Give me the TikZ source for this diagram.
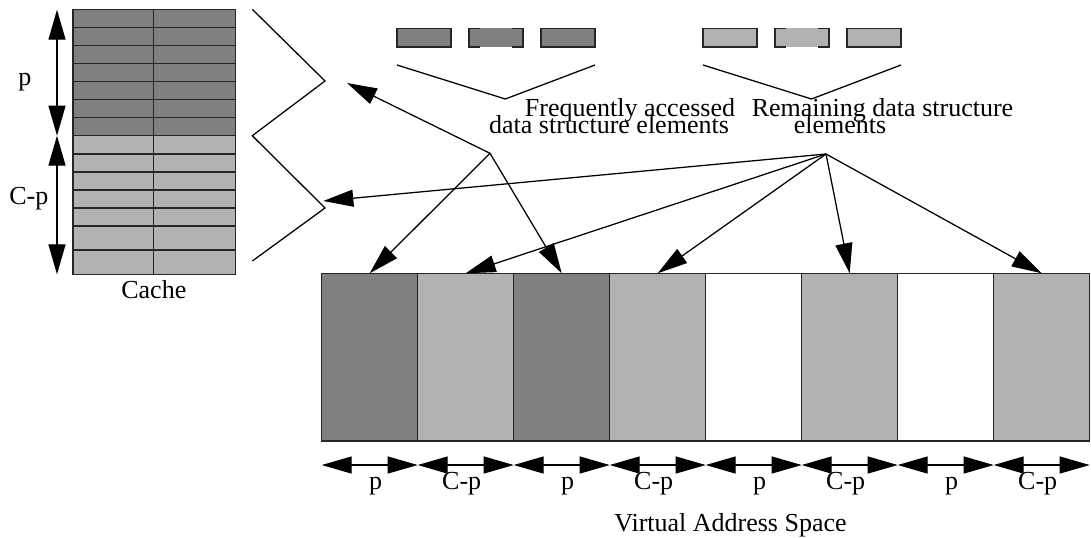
\documentclass[tikz,border=0pt]{standalone}
\usepackage{fontspec}
\setmainfont{Liberation Serif}
\usetikzlibrary{arrows.meta,calc}
\usepackage{xcolor}
\definecolor{hotgray}{gray}{0.5}
\definecolor{coldgray}{gray}{0.7}

\begin{document}
\begin{tikzpicture}[x=0.75pt,y=-0.75pt,
  every node/.style={font=\fontsize{19.5pt}{20pt}\selectfont, inner sep=0pt},
  boxline/.style={line width=1.1pt, draw=black!85},
  bigtip/.style={-{Triangle[length=22.5pt,width=12.75pt]}, line width=0.95pt},
  dimarrow/.style={{Triangle[length=22.5pt,width=12.75pt]}-{Triangle[length=22.5pt,width=12.75pt]}, line width=0.95pt},
  vbox/.style={boxline, minimum width=72pt, minimum height=125.8pt, outer sep=0pt}]
\useasboundingbox (0,0) rectangle (1091,538);

%cache lines
\fill[hotgray] (73,9.7) rectangle (235.7,135.7);
\fill[coldgray] (73,135.7) rectangle (235.7,274.3);
\foreach \y in {27.7,45.7,63.7,81.7,99.7,117.7,135.7,154,172,190,208,226,250}
  \draw[boxline] (73,\y) -- (235.7,\y);
\draw[boxline] (153.7,9.7) -- (153.7,274.3);
\draw[boxline] (73,9.7) rectangle (235.7,274.3);
\node[anchor=base] (cachelbl) at (153.8,298.3) {Cache};

%cache split
\coordinate (ctop) at (57,9.7); \coordinate (cmid) at (57,135.7); \coordinate (cbot) at (57,274.3);
\draw[dimarrow] (ctop) -- (cmid);
\draw[dimarrow] (cmid) -- (cbot);
\node[anchor=base] (lblp) at (25,86) {p};
\node[anchor=base] (lblcp) at (28.8,205) {C-p};

%zigzag coords
\coordinate (zz0) at (252.3,9.3); \coordinate (zzA) at (325,81); \coordinate (zz1) at (252.3,135.7); \coordinate (zzB) at (325,208); \coordinate (zz2) at (252.3,261);
\draw[line width=0.95pt] (zz0) -- (zzA) -- (zz1) -- (zzB) -- (zz2);

%data structure elements
\foreach \x/\c in {397/hotgray,541/hotgray,703/coldgray,847/coldgray}
  \draw[boxline, fill=\c] (\x,28.5) rectangle ++(54,18.5);
\foreach \x/\c in {469/hotgray,775/coldgray}{
  \fill[\c] (\x,28.5) rectangle ++(54,18.5);
  \draw[boxline] (\x+11,28.5) -- (\x,28.5) -- (\x,47) -- (\x+11,47);
  \draw[boxline] (\x+43,28.5) -- (\x+54,28.5) -- (\x+54,47) -- (\x+43,47);
}
\draw[line width=0.95pt] (397,65) -- (505.3,99) -- (595,65);
\draw[line width=0.95pt] (703,65) -- (811.5,99) -- (901,65);
\node[anchor=base] (freq1) at (630,116.5) {Frequently accessed};
\node[anchor=base] (freq2) at (609,134) {data structure elements};
\node[anchor=base] (rest1) at (882.5,116.5) {Remaining data structure};
\node[anchor=base] (rest2) at (840,134) {elements};

%virtual address space
\foreach \i/\c in {1/hotgray,2/coldgray,3/hotgray,4/coldgray,5/white,6/coldgray,7/white,8/coldgray}
  \node[vbox, fill=\c] (v\i) at ({273.7+96*\i},357.15) {};
\foreach \i/\lab/\dx in {1/p/6,2/C-p/-4,3/p/6,4/C-p/-4,5/p/6,6/C-p/-4,7/p/6,8/C-p/-4}{
  \draw[dimarrow] ($(v\i.south west)+(0,24)$) -- ($(v\i.south east)+(0,24)$);
  \node[anchor=base] (d\i) at ($(v\i.south)+(\dx,48)$) {\lab};
}
\node[anchor=base] (vas) at (730.5,531) {Virtual Address Space};

%mapping arrows
\coordinate (hubA) at (490,153.3); \coordinate (hubB) at (826,154);
\coordinate (intoP) at (347,83); \coordinate (intoC) at (323.3,201);
\draw[bigtip] (hubA) -- (intoP);
\draw[bigtip] (hubA) -- (v1.north);
\draw[bigtip] (hubA) -- (v3.north);
\draw[bigtip] (hubB) -- (intoC);
\foreach \i in {2,4,6,8}
  \draw[bigtip] (hubB) -- (v\i.north);
\end{tikzpicture}
\end{document}
